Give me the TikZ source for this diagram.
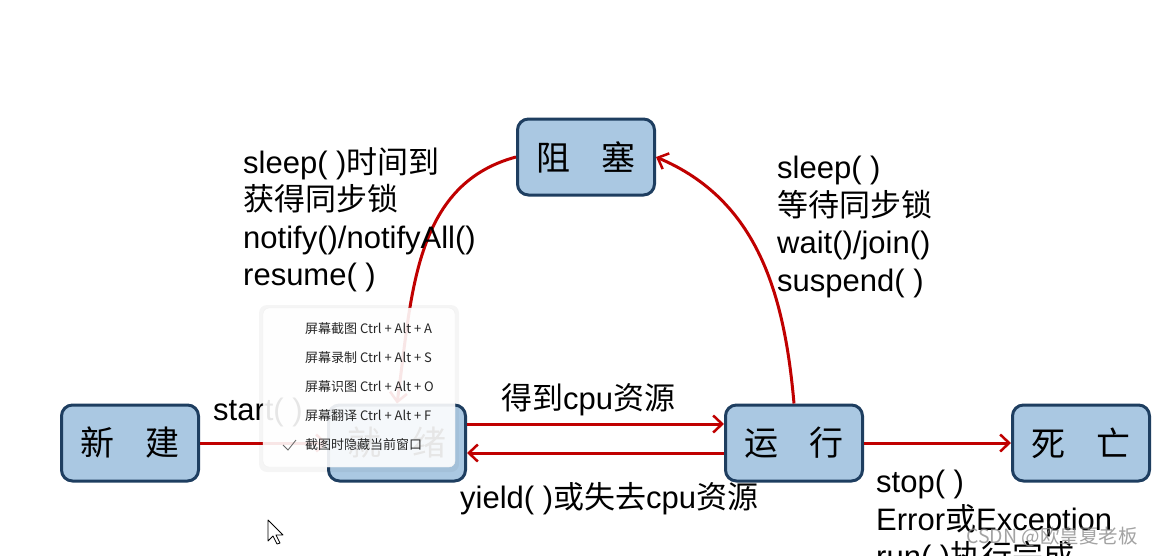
\documentclass[tikz,border=0pt]{standalone}
\usepackage{fontspec}
\setmainfont{Liberation Sans}
\newfontfamily\cjk{Noto Sans CJK SC}
\usetikzlibrary{arrows.meta}

\definecolor{boxfill}{RGB}{170,200,226}
\definecolor{boxline}{RGB}{30,62,96}
\definecolor{arrred}{RGB}{192,0,0}

\newcommand{\zh}[1]{{\cjk #1}}

\tikzset{
  state/.style={draw=boxline, fill=boxfill, line width=3pt, rounded corners=11pt,
    minimum width=137pt, minimum height=76pt, font=\cjk\fontsize{34}{34}\selectfont},
  trans/.style={draw=arrred, line width=3pt,
    -{Straight Barb[length=9pt,width=17pt,line width=2.5pt]}},
  lbl/.style={anchor=north west, align=left, inner sep=0pt,
    font=\fontsize{31}{37.5}\selectfont},
  menuitem/.style={anchor=west, inner sep=0pt, text=black!85,
    font=\cjk\fontsize{13}{13}\selectfont},
}

\begin{document}
\begin{tikzpicture}[x=1pt,y=-1pt]
            \useasboundingbox (0,0) rectangle (1152,555);
            \fill[white] (0,0) rectangle (1152,555);

            \node[state] (block) at (586,157) {阻\hspace{0.9em}塞};
            \node[state] (new) at (130,443) {新\hspace{0.9em}建};
            \node[state] (ready) at (397,443) {就\hspace{0.9em}绪};
            \node[state] (run) at (794,443) {运\hspace{0.9em}行};
            \node[state] (dead) at (1081,443) {死\hspace{0.9em}亡};

            \draw[trans] (new) -- (ready);
            \draw[trans] ([yshift=19pt]ready.east) -- ([yshift=19pt]run.west);
            \draw[trans] ([yshift=-10pt]run.west) -- ([yshift=-10pt]ready.east);
            \draw[trans] (run) -- (dead);
            \draw[trans] (run.north) to[out=95,in=-23] (block.east);
            \draw[trans] (block.west) to[out=195,in=82] (ready.north);

            \node[lbl, anchor=base west] (startlbl) at (213,420) {start( )};
            \node[lbl, anchor=base west] (getcpu) at (501,409) {\zh{得到}cpu\zh{资源}};
            \node[lbl, anchor=base west] (losecpu) at (460,508) {yield( )\zh{或失去}cpu\zh{资源}};
            \node[lbl] (wakeup) at (243,147) {sleep( )\zh{时间到}\\ \zh{获得同步锁}\\ notify()/notifyAll()\\ resume( )};
            \node[lbl] (sleeplbl) at (777,156) {sleep( )\\ \zh{等待同步锁}\\ wait()/join()\\ suspend( )};
            \node[lbl] (stoplbl) at (876,470) {stop( )\\ Error\zh{或}Exception\\ run( )\zh{执行完成}};

            \node[anchor=west, inner sep=0pt, text=black!45, opacity=0.8,
              font=\cjk\fontsize{19.5}{19.5}\selectfont] (mark) at (966,537) {CSDN @欧皇夏老板};

            \fill[black, opacity=0.04, rounded corners=8pt] (259,305) rectangle (459,472);
            \node[draw=black!6, fill=white, fill opacity=0.9, rounded corners=6pt,
              minimum width=192pt, minimum height=159pt] (menu) at (359,387.5) {};
            \foreach \txt [count=\i] in {屏幕截图 Ctrl + Alt + A, 屏幕录制 Ctrl + Alt + S,
              屏幕识图 Ctrl + Alt + O, 屏幕翻译 Ctrl + Alt + F, 截图时隐藏当前窗口}
              \node[menuitem] (item\i) at (305,{329+29*(\i-1)}) {\txt};
            \draw[black!60, line width=0.8pt] (283,445) -- (288,450) -- (296,440);

            \filldraw[fill=white, draw=black, line width=0.8pt, line join=round]
              (268,520) -- (268,541) -- (273,536) -- (277,544) -- (280,543) -- (276,535) -- (283,535) -- cycle;
\end{tikzpicture}
\end{document}
